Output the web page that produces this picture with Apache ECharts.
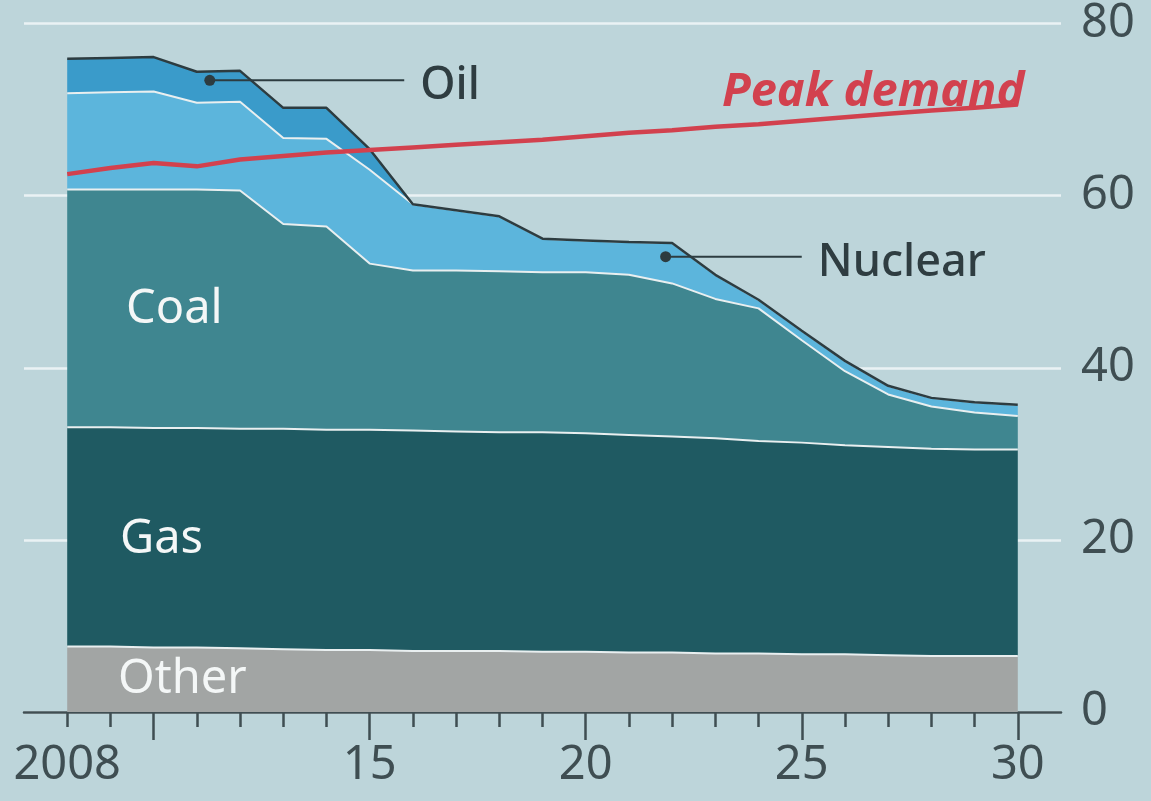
<!DOCTYPE html>
<html>
<head>
<meta charset="utf-8">
<script src="https://cdn.jsdelivr.net/npm/echarts@6/dist/echarts.min.js"></script>
<style>
  html, body { margin: 0; padding: 0; background: #bdd5da; }
  #chart { width: 1151px; height: 801px; }
</style>
</head>
<body>
<div id="chart"></div>
<script>
// years on the x axis
const years = [2008, 2009, 2010, 2011, 2012, 2013, 2014, 2015, 2016, 2017, 2018, 2019,
  2020, 2021, 2022, 2023, 2024, 2025, 2026, 2027, 2028, 2029, 2030];
// stacked capacity by source, GW
const other = [7.6, 7.6, 7.5, 7.5, 7.4, 7.3, 7.2, 7.2, 7.1, 7.1, 7.1, 7.0,
  7.0, 6.9, 6.9, 6.8, 6.8, 6.7, 6.7, 6.6, 6.5, 6.5, 6.5];
const gas = [25.5, 25.5, 25.5, 25.5, 25.5, 25.6, 25.6, 25.6, 25.6, 25.5, 25.4, 25.5,
  25.4, 25.3, 25.1, 25.0, 24.7, 24.6, 24.3, 24.2, 24.1, 24.0, 24.0];
const coal = [27.6, 27.6, 27.7, 27.7, 27.7, 23.8, 23.6, 19.3, 18.6, 18.7, 18.7, 18.6,
  18.7, 18.6, 17.8, 16.2, 15.4, 11.9, 8.6, 6.1, 4.9, 4.3, 3.9];
const nuclear = [11.2, 11.3, 11.4, 10.1, 10.3, 10.0, 10.2, 10.9, 7.7, 7.0, 6.4, 3.9,
  3.7, 3.8, 4.7, 2.8, 1.0, 1.1, 1.2, 1.0, 1.0, 1.2, 1.3];
const oil = [4.0, 4.0, 4.0, 3.6, 3.6, 3.5, 3.6, 2.4, 0, 0, 0, 0,
  0, 0, 0, 0, 0, 0, 0, 0, 0, 0, 0];
const peakDemand = [62.5, 63.2, 63.8, 63.4, 64.2, 64.6, 65.0, 65.3, 65.6, 65.9, 66.2, 66.5,
  66.9, 67.3, 67.6, 68.0, 68.3, 68.7, 69.1, 69.5, 69.9, 70.2, 70.6];
// tick marks / labels
const longTicks = [2010, 2015, 2020, 2025, 2030];
const xLabels = [2008, 2015, 2020, 2025, 2030];

const FONT = "'Noto Sans', sans-serif";
const INK = "#3f4e52";

// the axis line runs one year past each end of the data
const axisYears = [years[0] - 1].concat(years, [years[years.length - 1] + 1]);
const inData = y => y >= years[0] && y <= years[years.length - 1];

const chart = echarts.init(document.getElementById("chart"));

function padded(vals) {
  return ["-"].concat(vals, ["-"]);
}

function area(name, vals, fill, lineColor, lineWidth) {
  return {
    name: name,
    type: "line",
    stack: "total",
    data: padded(vals),
    showSymbol: false,
    silent: true,
    lineStyle: { color: lineColor, width: lineWidth },
    areaStyle: { color: fill, opacity: 1 },
    z: 2
  };
}

const option = {
  backgroundColor: "#bdd5da",
  animation: false,
  grid: { left: 24, right: 90, top: 19, bottom: 89 },
  xAxis: [
    {
      type: "category",
      data: axisYears,
      boundaryGap: false,
      position: "bottom",
      axisLine: { show: true, lineStyle: { color: INK, width: 2.5 } },
      axisTick: {
        show: true, length: 15, lineStyle: { color: INK, width: 2.5 },
        interval: (i, v) => inData(+v)
      },
      axisLabel: { show: false },
      splitLine: { show: false }
    },
    {
      type: "category",
      data: axisYears,
      boundaryGap: false,
      position: "bottom",
      axisLine: { show: false },
      axisTick: {
        show: true, length: 28, lineStyle: { color: INK, width: 2.5 },
        interval: (i, v) => longTicks.includes(+v)
      },
      axisLabel: {
        interval: (i, v) => xLabels.includes(+v),
        margin: 30,
        fontSize: 47,
        fontFamily: FONT,
        color: INK,
        formatter: v => (+v === 2008 ? "2008" : String(v).slice(2))
      },
      splitLine: { show: false }
    }
  ],
  yAxis: {
    type: "value",
    min: 0,
    max: 80,
    interval: 20,
    position: "right",
    axisLine: { show: false },
    axisTick: { show: false },
    axisLabel: { fontSize: 47, fontFamily: FONT, color: INK, margin: 20 },
    splitLine: { lineStyle: { color: "rgba(242,247,248,0.85)", width: 2.5 } }
  },
  series: [
    area("Other", other, "#a2a5a4", "#e9eff0", 2),
    area("Gas", gas, "#1f5a62", "#e9eff0", 2),
    area("Coal", coal, "#3f8690", "#e9eff0", 2),
    area("Nuclear", nuclear, "#5cb5dc", "#e9eff0", 2),
    area("Oil", oil, "#3a9bca", "#2d3c40", 2.5),
    {
      name: "Peak demand",
      type: "line",
      data: padded(peakDemand),
      showSymbol: false,
      silent: true,
      lineStyle: { color: "#d2414e", width: 4.5 },
      z: 5
    }
  ]
};

chart.setOption(option);

// annotations placed through the chart's own scales (year -> category index)
const px = (year, v) => {
  const i = Math.floor(year - axisYears[0]);
  const f = year - axisYears[0] - i;
  const a = chart.convertToPixel({ seriesIndex: 0 }, [i, v]);
  const b = chart.convertToPixel({ seriesIndex: 0 }, [i + 1, v]);
  return [a[0] + (b[0] - a[0]) * f, a[1]];
};

function leader(from, to, text) {
  const a = px(from[0], from[1]), b = px(to[0], to[1]);
  return [
    { type: "circle", shape: { cx: a[0], cy: a[1], r: 5.5 }, style: { fill: "#2d3c40" }, z: 10 },
    { type: "line", shape: { x1: a[0], y1: a[1], x2: b[0], y2: b[1] }, style: { stroke: "#2d3c40", lineWidth: 2 }, z: 10 },
    {
      type: "text", x: b[0] + 16, y: b[1] + 6, z: 10,
      style: { text: text, fill: "#2f3d41", font: "500 45px " + FONT, textVerticalAlign: "middle" }
    }
  ];
}

function whiteLabel(text, x, y) {
  return {
    type: "text", x: x, y: y, z: 10,
    style: { text: text, fill: "#f4f7f7", font: "47px " + FONT, textVerticalAlign: "middle" }
  };
}

chart.setOption({
  graphic: [].concat(
    leader([2011.3, 73.4], [2015.8, 73.4], "Oil"),
    leader([2021.85, 52.9], [2025.0, 52.9], "Nuclear"),
    [
      whiteLabel("Coal", 126, 310),
      whiteLabel("Gas", 120, 540),
      whiteLabel("Other", 118, 680),
      {
        type: "text", x: 722, y: 93, z: 10,
        style: { text: "Peak demand", fill: "#d2414e", font: "italic bold 47px " + FONT, textVerticalAlign: "middle" }
      }
    ]
  )
});
</script>
</body>
</html>
